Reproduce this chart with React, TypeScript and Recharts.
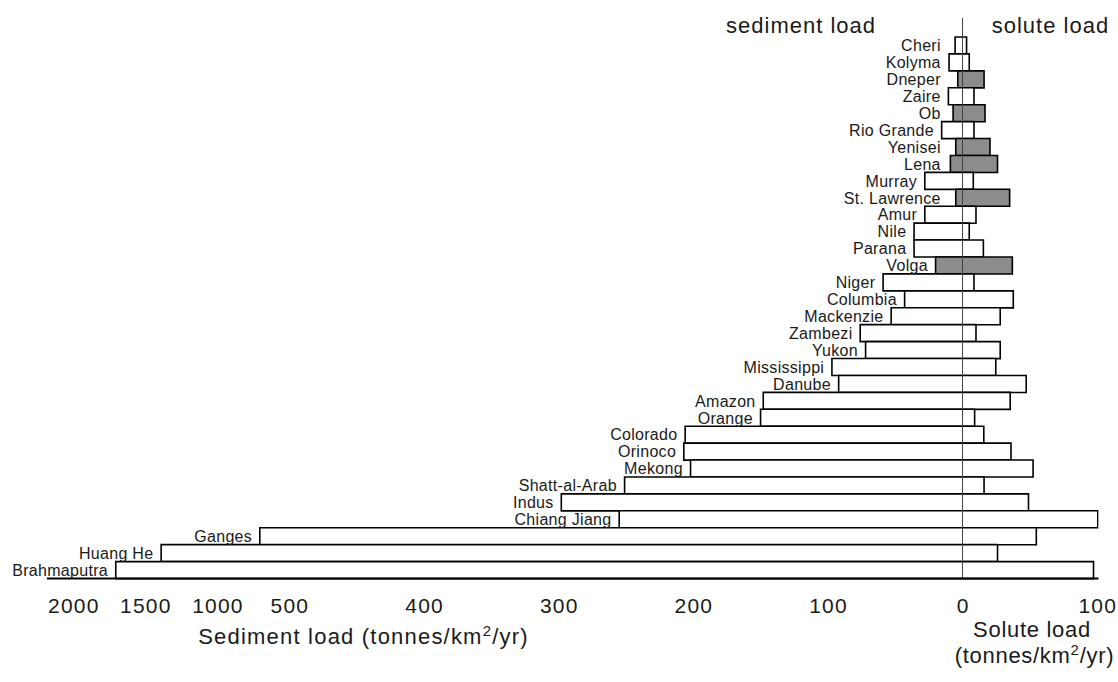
import React from 'react';
import { BarChart, Bar, XAxis, YAxis, ReferenceLine, LabelList, Cell } from 'recharts';

// ---- data ----
const rivers = [
  'Cheri', 'Kolyma', 'Dneper', 'Zaire', 'Ob', 'Rio Grande', 'Yenisei', 'Lena',
  'Murray', 'St. Lawrence', 'Amur', 'Nile', 'Parana', 'Volga', 'Niger', 'Columbia',
  'Mackenzie', 'Zambezi', 'Yukon', 'Mississippi', 'Danube', 'Amazon', 'Orange',
  'Colorado', 'Orinoco', 'Mekong', 'Shatt-al-Arab', 'Indus', 'Chiang Jiang',
  'Ganges', 'Huang He', 'Brahmaputra',
];

// sediment load, tonnes/km2/yr
const sedimentLoad = [
  5.5, 10, 3.5, 10.5, 7, 15.5, 5, 9,
  28, 5, 28, 36, 36, 20, 59, 43,
  53, 76, 72, 97, 92, 148, 150,
  206, 207, 202, 251, 298, 255,
  705, 1390, 1705,
];

// solute load, tonnes/km2/yr
const soluteLoad = [
  3, 5, 16, 8.5, 16.7, 8.5, 20.4, 26,
  8, 35, 10, 5, 15.5, 37, 8.5, 37.7,
  28, 10, 28, 24.7, 47.3, 35.4, 9,
  15.8, 36, 52.4, 16, 49, 100.5,
  54.8, 26, 97.3,
];

// rivers whose solute load exceeds sediment load (shaded)
const shadedRivers = ['Dneper', 'Ob', 'Yenisei', 'Lena', 'St. Lawrence', 'Volga'];

const sedimentTickLabels = [2000, 1500, 1000, 500, 400, 300, 200, 100, 0];
const soluteTickLabels = [100];

// ---- broken sediment scale: linear to 500, compressed beyond ----
const BREAK = 500;
const COMPRESSION = 0.107;
const sedToAxis = (s: number) => (s <= BREAK ? s : BREAK + (s - BREAK) * COMPRESSION);

const DOMAIN: [number, number] = [-680, 101];

const data = rivers.map((river, i) => ({
  river,
  sediment: sedimentLoad[i],
  solute: soluteLoad[i],
  range: [-sedToAxis(sedimentLoad[i]), soluteLoad[i]],
  shaded: shadedRivers.includes(river),
}));

const ticks = [...sedimentTickLabels.map((s) => -sedToAxis(s)), ...soluteTickLabels];
const tickText = new Map<number, string>();
sedimentTickLabels.forEach((s) => tickText.set(-sedToAxis(s) + 0, String(s)));
soluteTickLabels.forEach((v) => tickText.set(v, String(v)));

const FONT = '"Liberation Sans", Arial, Helvetica, sans-serif';
const INK = '#1a1a1a';

const renderTick = (props: any) => {
  const { x, y, payload } = props;
  const v = Number(payload.value) + 0;
  return (
    <text x={x + 0.6} y={y + 34.8} textAnchor="middle" fontSize={21} letterSpacing={1.2}
      fontFamily={FONT} fill={INK}>
      {tickText.get(v) ?? ''}
    </text>
  );
};

const renderRiverLabel = (props: any) => {
  const vb = props.viewBox && props.viewBox.width !== undefined ? props.viewBox : props;
  const x = Number(vb.x);
  const y = Number(vb.y);
  const w = Number(vb.width);
  const h = Number(vb.height);
  const left = Math.min(x, x + w);
  const right = Math.max(x, x + w);
  const d = data.find((r) => r.river === props.value);
  if (!d) return null;
  const span = d.range[1] - d.range[0];
  const zeroX = left + ((right - left) * -d.range[0]) / span;
  const tx = Math.min(left - 8, zeroX - 22);
  return (
    <text x={tx + 0.3} y={y + h / 2} dy="0.36em" textAnchor="end" fontSize={16}
      letterSpacing={0.3} fontFamily={FONT} fill={INK}>
      {props.value}
    </text>
  );
};

const renderHeaders = (props: any) => {
  const vb = props.viewBox || {};
  const x = Number(vb.x);
  const top = Math.min(Number(vb.y), Number(vb.y) + Number(vb.height || 0));
  return (
    <g>
      <text x={x - 86.5} y={top + 15.3} textAnchor="end" fontSize={22} letterSpacing={1}
        fontFamily={FONT} fill={INK}>sediment load</text>
      <text x={x + 29.2} y={top + 15.3} textAnchor="start" fontSize={22} letterSpacing={1}
        fontFamily={FONT} fill={INK}>solute load</text>
    </g>
  );
};

const renderAxisTitles = (props: any) => {
  const vb = props.viewBox || {};
  const x0 = Number(vb.x);
  const w = Number(vb.width);
  const y0 = Number(vb.y);
  const zeroX = x0 + (w * (0 - DOMAIN[0])) / (DOMAIN[1] - DOMAIN[0]);
  return (
    <g fontFamily={FONT} fill={INK}>
      <text x={zeroX - 599} y={y0 + 65.8} textAnchor="middle" fontSize={22} letterSpacing={1.2}>
        <tspan>Sediment load (tonnes/km</tspan>
        <tspan dy={-8} fontSize={15}>2</tspan>
        <tspan dy={8}>/yr)</tspan>
      </text>
      <text x={zeroX + 69.5} y={y0 + 58.5} textAnchor="middle" fontSize={22} letterSpacing={0.7}>
        Solute load
      </text>
      <text x={zeroX + 72} y={y0 + 84} textAnchor="middle" fontSize={22} letterSpacing={0.7}>
        <tspan>(tonnes/km</tspan>
        <tspan dy={-8} fontSize={15}>2</tspan>
        <tspan dy={8}>/yr)</tspan>
      </text>
    </g>
  );
};

export default function App() {
  return (
    <div style={{ position: 'absolute', left: 0, top: 0, width: 1118, height: 682, background: '#ffffff' }}>
      <BarChart
        width={1118}
        height={682}
        data={data}
        layout="vertical"
        margin={{ top: 18, right: 19.5, bottom: 23.5, left: 47 }}
        barCategoryGap={0}
        barGap={0}
      >
        <XAxis
          type="number"
          domain={DOMAIN}
          ticks={ticks}
          interval={0}
          allowDataOverflow
          tickLine={false}
          tickSize={0}
          tickMargin={0}
          axisLine={{ stroke: '#000', strokeWidth: 2 }}
          height={80}
          tick={renderTick}
          label={renderAxisTitles}
        />
        <YAxis type="category" dataKey="river" hide padding={{ top: 19, bottom: 0 }} />
        <Bar dataKey="range" isAnimationActive={false} stroke="#000" strokeWidth={1.6}>
          {data.map((d) => (
            <Cell key={d.river} fill={d.shaded ? '#8c8c8c' : '#ffffff'} />
          ))}
          <LabelList dataKey="river" content={renderRiverLabel} />
        </Bar>
        <ReferenceLine x={0} stroke="#444" strokeWidth={1} label={renderHeaders} />
      </BarChart>
    </div>
  );
}
